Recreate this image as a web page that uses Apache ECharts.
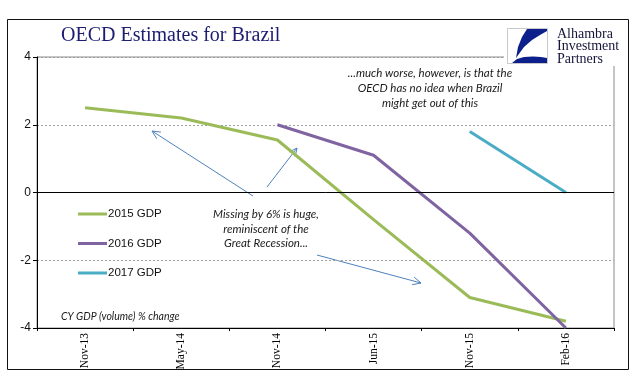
<!DOCTYPE html>
<html>
<head>
<meta charset="utf-8">
<script src="https://cdn.jsdelivr.net/npm/echarts@6/dist/echarts.min.js"></script>
<style>html,body{margin:0;padding:0;background:#fff}#c{width:641px;height:381px}</style>
</head>
<body>
<div id="c"></div>
<script>
const categories = ['Nov-13', 'May-14', 'Nov-14', 'Jun-15', 'Nov-15', 'Feb-16'];
const gdp2015 = [2.5, 2.2, 1.55, -0.8, -3.1, -3.8];
const gdp2016 = [null, null, 2.0, 1.1, -1.2, -4.0];
const gdp2017 = [null, null, null, null, 1.8, 0.0];
const yMin = -4, yMax = 4, yStep = 2;

const arrowColor = '#4f81bd';
function arrow(x1, y1, x2, y2) {
  const a = Math.atan2(y2 - y1, x2 - x1);
  const L = 9, w = 0.45;
  const p1 = [x2 - L * Math.cos(a - w), y2 - L * Math.sin(a - w)];
  const p2 = [x2 - L * Math.cos(a + w), y2 - L * Math.sin(a + w)];
  return {
    type: 'group', z: 50, children: [
      { type: 'line', shape: { x1, y1, x2, y2 }, style: { stroke: arrowColor, lineWidth: 1 } },
      { type: 'polyline', shape: { points: [p1, [x2, y2], p2] }, style: { stroke: arrowColor, lineWidth: 1, fill: null } }
    ]
  };
}
const noteFont = 'Lato, "Open Sans", sans-serif';
function note(x, y, text, size) {
  return { type: 'text', z: 50, x, y, style: { text, fill: '#1a1a1a', font: 'italic ' + size + 'px ' + noteFont, textAlign: 'center', textVerticalAlign: 'middle' } };
}

const chart = echarts.init(document.getElementById('c'), null, { renderer: 'canvas' });
chart.setOption({
  animation: false,
  backgroundColor: '#fff',
  grid: { left: 37, right: 27, top: 57, bottom: 53, show: true, borderColor: '#8a8a8a', borderWidth: 1 },
  legend: {
    orient: 'vertical', left: 73, top: 203, icon: 'rect', itemWidth: 29, itemHeight: 3, itemGap: 17.5,
    textStyle: { fontFamily: 'Liberation Sans, Arial, sans-serif', fontSize: 11.5, color: '#111', padding: [0, 0, 0, -4] },
    data: ['2015 GDP', '2016 GDP', '2017 GDP']
  },
  xAxis: {
    type: 'category', data: categories, boundaryGap: true,
    axisLine: { onZero: false, lineStyle: { color: '#000', width: 1 } },
    axisTick: { show: true, length: 3, lineStyle: { color: '#000' } },
    axisLabel: { rotate: 90, margin: 5, fontFamily: 'Liberation Serif, Times New Roman, serif', fontSize: 11.5, color: '#000' },
    splitLine: { show: false }
  },
  yAxis: {
    type: 'value', min: yMin, max: yMax, interval: yStep,
    axisLine: { show: true, lineStyle: { color: '#000', width: 1 } },
    axisTick: { show: true, length: 4, lineStyle: { color: '#000' } },
    axisLabel: { margin: 6, fontFamily: 'Liberation Sans, Arial, sans-serif', fontSize: 12, color: '#111' },
    splitLine: { show: true, lineStyle: { color: '#a0a0a0', type: [2, 2], width: 1 } }
  },
  series: [
    {
      name: '2015 GDP', type: 'line', data: gdp2015, symbol: 'none', connectNulls: false,
      lineStyle: { color: '#9bbb59', width: 3 }, itemStyle: { color: '#9bbb59' }, z: 3,
      markLine: {
        silent: true, symbol: 'none', label: { show: false },
        lineStyle: { color: '#000', type: 'solid', width: 1 },
        data: [{ yAxis: 0 }]
      }
    },
    { name: '2016 GDP', type: 'line', data: gdp2016, symbol: 'none', lineStyle: { color: '#8064a2', width: 3 }, itemStyle: { color: '#8064a2' }, z: 4 },
    { name: '2017 GDP', type: 'line', data: gdp2017, symbol: 'none', lineStyle: { color: '#4bacc6', width: 3 }, itemStyle: { color: '#4bacc6' }, z: 4 }
  ],
  graphic: [
    { type: 'rect', z: 0, silent: true, shape: { x: 7.5, y: 19.5, width: 621, height: 350 }, style: { fill: null, stroke: '#111', lineWidth: 1 } },
    { type: 'text', z: 50, x: 61, y: 36, style: { text: 'OECD Estimates for Brazil', fill: '#1c1c72', font: '20px "Liberation Serif", "Times New Roman", serif', textVerticalAlign: 'middle' } },
    // logo
    { type: 'rect', z: 40, shape: { x: 504, y: 21, width: 124, height: 45 }, style: { fill: '#fff', stroke: null } },
    { type: 'rect', z: 41, shape: { x: 507.5, y: 28.5, width: 40, height: 35 }, style: { fill: '#fff', stroke: '#c8c8c8', lineWidth: 1 } },
    { type: 'polygon', z: 42, shape: { points: [[527,29],[547,29],[547,31],[540,35],[532,40],[524,47],[516,58],[518,47],[522,37]] }, style: { fill: '#0d1f8a' } },
    { type: 'polygon', z: 42, shape: { points: [[512,63],[517,59],[524,57],[533,56.5],[541,57],[547,58],[547,63]] }, style: { fill: '#0d1f8a' } },
    { type: 'text', z: 42, x: 557, y: 28, style: { text: 'Alhambra\nInvestment\nPartners', fill: '#14143a', font: '14px "Liberation Serif", "Times New Roman", serif', lineHeight: 12.5 } },
    // notes
    note(430, 73, '...much worse, however, is that the', 11.5),
    note(430, 88, 'OECD has no idea when Brazil', 11.5),
    note(430, 103, 'might get out of this', 11.5),
    note(266, 214, 'Missing by 6% is huge,', 11.5),
    note(266, 229, 'reminiscent of the', 11.5),
    note(266, 243, 'Great Recession...', 11.5),
    { type: 'text', z: 50, x: 61, y: 317, style: { text: 'CY GDP (volume) % change', fill: '#1a1a1a', font: 'italic 10.5px ' + noteFont, textVerticalAlign: 'middle' } },
    arrow(253, 196, 152, 131),
    arrow(267, 187, 297, 148),
    arrow(317, 255, 421, 283)
  ]
});
</script>
</body>
</html>
